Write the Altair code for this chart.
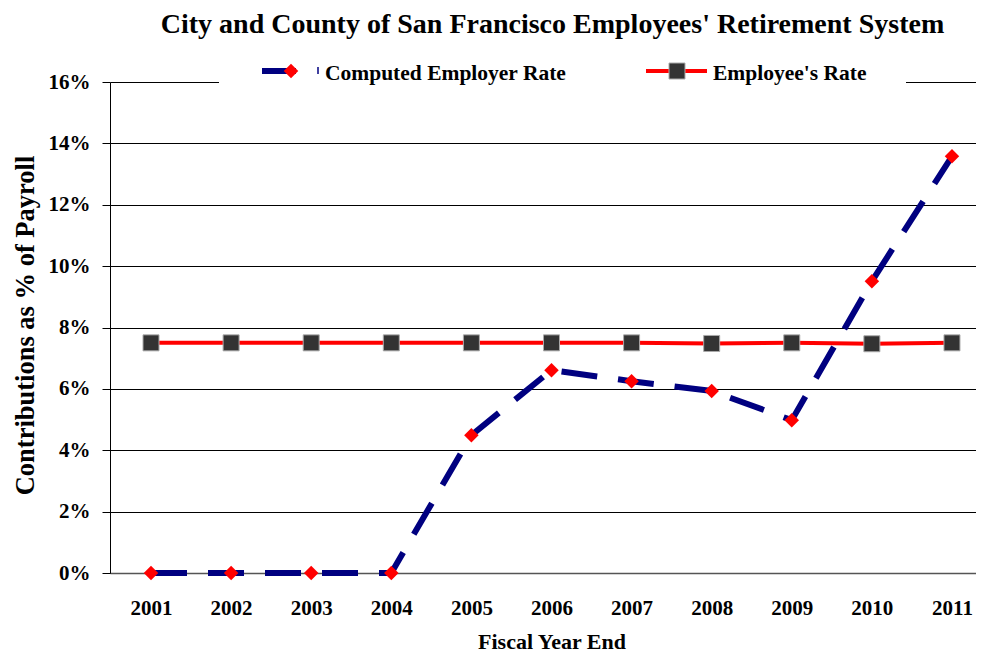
import altair as alt
import pandas as pd

# ---- data ----
years = [2001, 2002, 2003, 2004, 2005, 2006, 2007, 2008, 2009, 2010, 2011]
employer_rate = [0.0, 0.0, 0.0, 0.0, 4.49, 6.61, 6.25, 5.93, 4.98, 9.51, 13.58]
employee_rate = [7.5, 7.5, 7.5, 7.5, 7.5, 7.5, 7.5, 7.48, 7.5, 7.47, 7.5]
series_names = ["Computed Employer Rate", "Employee's Rate"]
y_tick_values = [0, 2, 4, 6, 8, 10, 12, 14, 16]
chart_title = ["City and County of San Francisco Employees' Retirement System"]

SERIF = "Liberation Serif"

df_employer = pd.DataFrame({"year": years, "rate": [v / 100 for v in employer_rate]})
df_employee = pd.DataFrame({"year": years, "rate": [v / 100 for v in employee_rate]})

x_enc = alt.X(
    "year:Q",
    scale=alt.Scale(domain=[2000.488, 2011.3], nice=False, zero=False),
    axis=alt.Axis(
        values=years, format="d", ticks=False, tickSize=0, grid=False,
        labelPadding=24, labelFont=SERIF, labelFontSize=21, labelFontWeight="bold",
        labelColor="black", labelFlush=False,
        domainColor="#555555", domainWidth=1.5,
        title="Fiscal Year End", titleFont=SERIF, titleFontSize=22,
        titleFontWeight="bold", titleColor="black",
        titleX=441.5, titleY=75, titleBaseline="alphabetic",
    ),
)
y_enc = alt.Y(
    "rate:Q",
    scale=alt.Scale(domain=[0, 0.16], nice=False),
    axis=alt.Axis(
        values=[v / 100 for v in y_tick_values], format=".0%",
        grid=True, gridColor="black", gridWidth=1,
        domainColor="black", domainWidth=1, tickColor="black", tickSize=8,
        labelPadding=12, labelFont=SERIF, labelFontSize=21, labelFontWeight="bold",
        labelColor="black",
        title="Contributions as % of Payroll", titleFont=SERIF, titleFontSize=26.5,
        titleFontWeight="bold", titleColor="black",
        titleX=-77, titleY=243, titleBaseline="alphabetic",
    ),
)

employee_line = alt.Chart(df_employee).mark_line(color="red", strokeWidth=4).encode(x=x_enc, y=y_enc)
employee_pts = alt.Chart(df_employee).mark_point(
    shape="square", filled=True, fill="#333333", stroke="#aaaaaa", strokeWidth=1,
    size=256, opacity=1,
).encode(x=x_enc, y=y_enc)
employer_line = alt.Chart(df_employer).mark_line(
    color="#000080", strokeWidth=6, strokeDash=[36, 21]
).encode(x=x_enc, y=y_enc)
employer_pts = alt.Chart(df_employer).mark_point(
    shape="diamond", filled=True, color="red", size=210, opacity=1
).encode(x=x_enc, y=y_enc)

# ---- chart title as a text mark ----
title_df = pd.DataFrame({"t": chart_title})
title_mark = alt.Chart(title_df).mark_text(
    align="center", baseline="alphabetic", font=SERIF, fontSize=28,
    fontWeight="bold", color="black",
).encode(x=alt.value(442.5), y=alt.value(-49), text="t:N")

# ---- legend (drawn by hand, at the top of the plot) ----
one = pd.DataFrame({"name": [series_names[0]]})
two = pd.DataFrame({"name": [series_names[1]]})
leg_bg = alt.Chart(one).mark_rect(color="white").encode(
    x=alt.value(109), x2=alt.value(796), y=alt.value(-24), y2=alt.value(6)
)
leg_line1 = alt.Chart(one).mark_rule(color="#000080", strokeWidth=6).encode(
    x=alt.value(152), x2=alt.value(186), y=alt.value(-11)
)
leg_pt1 = alt.Chart(one).mark_point(
    shape="diamond", filled=True, color="red", size=210, opacity=1
).encode(x=alt.value(181), y=alt.value(-11))
leg_tick1 = alt.Chart(one).mark_rule(color="#000080", strokeWidth=1.5).encode(
    x=alt.value(208), y=alt.value(-15), y2=alt.value(-8)
)
leg_txt1 = alt.Chart(one).mark_text(
    align="left", baseline="alphabetic", font=SERIF, fontSize=21.5, fontWeight="bold", color="black"
).encode(x=alt.value(215), y=alt.value(-2), text="name:N")
leg_line2 = alt.Chart(two).mark_rule(color="red", strokeWidth=4).encode(
    x=alt.value(536), x2=alt.value(597), y=alt.value(-11)
)
leg_pt2 = alt.Chart(two).mark_point(
    shape="square", filled=True, fill="#333333", stroke="#aaaaaa", strokeWidth=1,
    size=256, opacity=1,
).encode(x=alt.value(567), y=alt.value(-11))
leg_txt2 = alt.Chart(two).mark_text(
    align="left", baseline="alphabetic", font=SERIF, fontSize=21.5, fontWeight="bold", color="black"
).encode(x=alt.value(603), y=alt.value(-2), text="name:N")

chart = alt.layer(
    employee_line, employee_pts, employer_line, employer_pts,
    leg_bg, leg_line1, leg_pt1, leg_tick1, leg_txt1, leg_line2, leg_pt2, leg_txt2,
    title_mark,
).properties(
    width=866,
    height=491,
    padding={"left": 102, "top": 74, "right": 0, "bottom": 80},
    autosize=alt.AutoSizeParams(type="none"),
).configure_view(stroke=None)

chart.save("out.html", embed_options={"renderer": "svg", "actions": False})
